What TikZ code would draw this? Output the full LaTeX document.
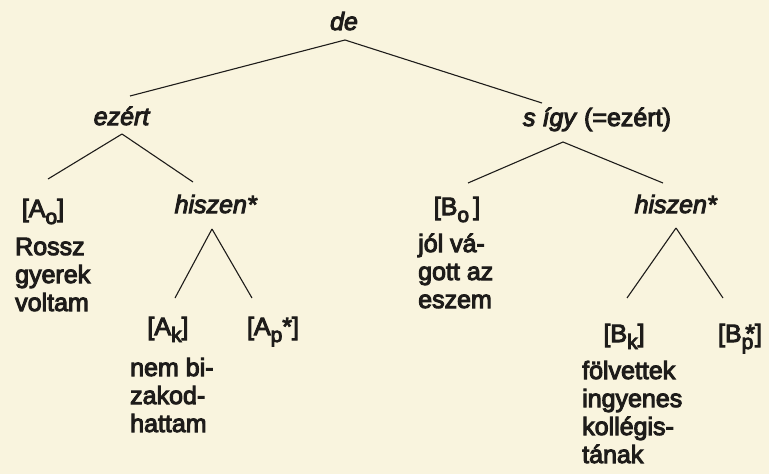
\documentclass[tikz,border=0pt]{standalone}
\usepackage{fontspec}
\setmainfont{Liberation Sans}[FakeBold=4]
\newcommand\lowsub[1]{\raisebox{-7pt}{\fontsize{21}{21}\selectfont #1}}
\definecolor{paper}{RGB}{249,244,222}
\definecolor{ink}{RGB}{30,28,26}
\tikzset{
  lbl/.style={inner sep=0pt, anchor=base, text=ink, font=\fontsize{25}{28}\selectfont},
  blk/.style={inner sep=0pt, anchor=base west, text=ink, align=left, font=\fontsize{25}{28}\selectfont},
  edge/.style={draw=ink, line width=1.1pt}
}
\begin{document}
\begin{tikzpicture}[x=1pt,y=-1pt]
\fill[paper] (0,0) rectangle (769,474);
\useasboundingbox (0,0) rectangle (769,474);
% labels
\node[lbl] (de) at (344,30) {\textit{de}};
\node[lbl] (ezert) at (122,125) {\textit{ezért}};
\node[lbl] (sigy) at (597,126) {\textit{s így} (=ezért)};
\node[lbl] (Ao) at (43,217) {[A\lowsub{o}]};
\node[lbl] (hiszenL) at (216,213) {\textit{hiszen*}};
\node[lbl] (Bo) at (457,215) {[B\lowsub{o}\,]};
\node[lbl] (hiszenR) at (676,213) {\textit{hiszen*}};
\node[lbl] (Ak) at (168,335) {[A\lowsub{k}]};
\node[lbl] (Ap) at (273,335) {[A\lowsub{p}*]};
\node[lbl] (Bk) at (624,342) {[B\lowsub{k}]};
\node[lbl] (Bp) at (740,342) {[B\lowsub{p}\kern-8pt*]};
% text blocks (anchor = baseline of last line)
\node[blk] (rossz) at (15,311) {Rossz\\gyerek\\voltam};
\node[blk] (jol) at (418,308) {jól vá-\\gott az\\eszem};
\node[blk] (nem) at (130,432) {nem bi-\\zakod-\\hattam};
\node[blk] (folv) at (582,463) {fölvettek\\ingyenes\\kollégis-\\tának};
% connectors
\draw[edge] ([shift={(1,10)}]de.base) -- ([shift={(8,-29)}]ezert.base);
\draw[edge] ([shift={(1,10)}]de.base) -- ([shift={(-55,-23)}]sigy.base);
\draw[edge] ([shift={(0,9)}]ezert.base) -- ([shift={(5,-38)}]Ao.base);
\draw[edge] ([shift={(0,9)}]ezert.base) -- ([shift={(-23,-31)}]hiszenL.base);
\draw[edge] ([shift={(-4,16)}]hiszenL.base) -- ([shift={(7,-37)}]Ak.base);
\draw[edge] ([shift={(-4,16)}]hiszenL.base) -- ([shift={(-21,-37)}]Ap.base);
\draw[edge] ([shift={(-34,16)}]sigy.base) -- ([shift={(11,-32)}]Bo.base);
\draw[edge] ([shift={(-34,16)}]sigy.base) -- ([shift={(-13,-30)}]hiszenR.base);
\draw[edge] ([shift={(0,15)}]hiszenR.base) -- ([shift={(3,-44)}]Bk.base);
\draw[edge] ([shift={(0,15)}]hiszenR.base) -- ([shift={(-17,-44)}]Bp.base);
\end{tikzpicture}
\end{document}
